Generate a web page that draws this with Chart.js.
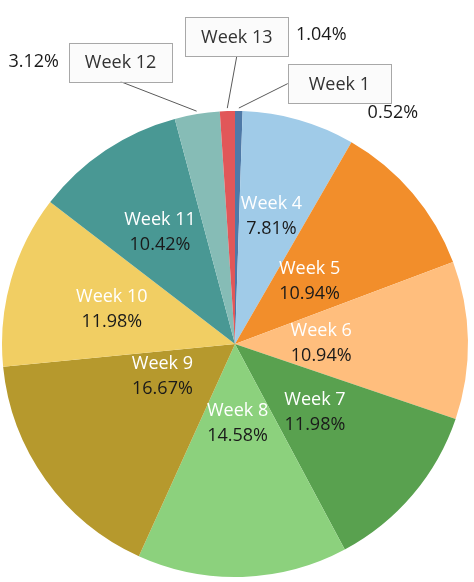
<!DOCTYPE html>
<html>
<head>
<meta charset="utf-8">
<script src="https://cdn.jsdelivr.net/npm/chart.js@4.4.1/dist/chart.umd.min.js"></script>
<style>
  html, body { margin: 0; padding: 0; background: #ffffff; }
  #wrap { width: 474px; height: 582px; }
</style>
</head>
<body>
<div id="wrap"><canvas id="weekPie" width="474" height="582"></canvas></div>
<script>
// Share of records per week (percent), clockwise from 12 o'clock
const weeks = ['Week 1', 'Week 4', 'Week 5', 'Week 6', 'Week 7', 'Week 8', 'Week 9', 'Week 10', 'Week 11', 'Week 12', 'Week 13'];
const shares = [0.52, 7.81, 10.94, 10.94, 11.98, 14.58, 16.67, 11.98, 10.42, 3.12, 1.04];
const sliceColors = ['#4e79a7', '#a0cbe8', '#f28e2b', '#ffbe7d', '#59a14f', '#8cd17d', '#b6992d', '#f1ce63', '#499894', '#86bcb6', '#e15759'];

// Label layout: [radial fraction, angle nudge in degrees] for the inside labels
const insideLayout = {
    1: [0.57, 0], 2: [0.42, 0], 3: [0.37, 0], 4: [0.45, 0],
    5: [0.34, 0], 6: [0.34, 12], 7: [0.55, 0], 8: [0.58, 0]
};
// Callout boxes for the thin slices: box centre offset from the slice edge,
// where the leader line meets the box, and where the percent goes
const callouts = {
    0:  { dx: 100.5, dy: -24.5, attach: 'left',   pdx: 53.5, pdy: 29.5 },
    10: { dx: 9.5,   dy: -71.5, attach: 'bottom', pdx: 84.5, pdy: -1.5 },
    9:  { dx: -76,   dy: -49,   attach: 'bottom', pdx: -87,  pdy: 0 }
};
const boxW = 103, boxH = 39;
const labelFont = '18px "Open Sans", "Noto Sans", sans-serif';

const pct = v => v.toFixed(2) + '%';

const sliceLabels = {
    id: 'sliceLabels',
    afterDatasetsDraw(chart) {
        const ctx = chart.ctx;
        const arcs = chart.getDatasetMeta(0).data;
        ctx.save();
        ctx.font = labelFont;
        ctx.textAlign = 'center';
        ctx.textBaseline = 'middle';
        arcs.forEach((arc, i) => {
            const { x, y, startAngle, endAngle, outerRadius } = arc.getProps(['x', 'y', 'startAngle', 'endAngle', 'outerRadius'], true);
            const mid = (startAngle + endAngle) / 2;
            if (insideLayout[i] !== undefined) {
                const [frac, nudge] = insideLayout[i];
                const r = frac * outerRadius;
                const a = mid + nudge * Math.PI / 180;
                const lx = x + Math.cos(a) * r;
                const ly = y + Math.sin(a) * r;
                ctx.fillStyle = '#ffffff';
                ctx.fillText(weeks[i], lx, ly - 12);
                ctx.fillStyle = '#1a1a1a';
                ctx.fillText(pct(shares[i]), lx, ly + 13);
            } else if (callouts[i]) {
                const c = callouts[i];
                const ax = x + Math.cos(mid) * (outerRadius + 3);
                const ay = y + Math.sin(mid) * (outerRadius + 3);
                const bx = ax + c.dx;
                const by = ay + c.dy;
                const tx = c.attach === 'left' ? bx - boxW / 2 : bx;
                const ty = c.attach === 'left' ? by : by + boxH / 2;
                ctx.strokeStyle = '#5a5a5a';
                ctx.lineWidth = 1;
                ctx.beginPath();
                ctx.moveTo(ax, ay);
                ctx.lineTo(tx, ty);
                ctx.stroke();
                ctx.fillStyle = '#fbfbfb';
                ctx.fillRect(bx - boxW / 2, by - boxH / 2, boxW, boxH);
                ctx.strokeStyle = '#a8a8a8';
                ctx.strokeRect(Math.round(bx - boxW / 2) + 0.5, Math.round(by - boxH / 2) + 0.5, boxW, boxH);
                ctx.fillStyle = '#333333';
                ctx.fillText(weeks[i], bx, by + 1);
                ctx.fillStyle = '#1a1a1a';
                ctx.fillText(pct(shares[i]), bx + c.pdx, by + c.pdy);
            }
        });
        ctx.restore();
    }
};

new Chart(document.getElementById('weekPie').getContext('2d'), {
    type: 'pie',
    data: {
        labels: weeks,
        datasets: [{
            data: shares,
            backgroundColor: sliceColors,
            borderWidth: 0
        }]
    },
    options: {
        responsive: false,
        animation: false,
        devicePixelRatio: 1,
        layout: {
            padding: { left: 2, right: 6, top: 111, bottom: 5 }
        },
        plugins: {
            legend: { display: false },
            tooltip: { enabled: false }
        }
    },
    plugins: [sliceLabels]
});
</script>
</body>
</html>
